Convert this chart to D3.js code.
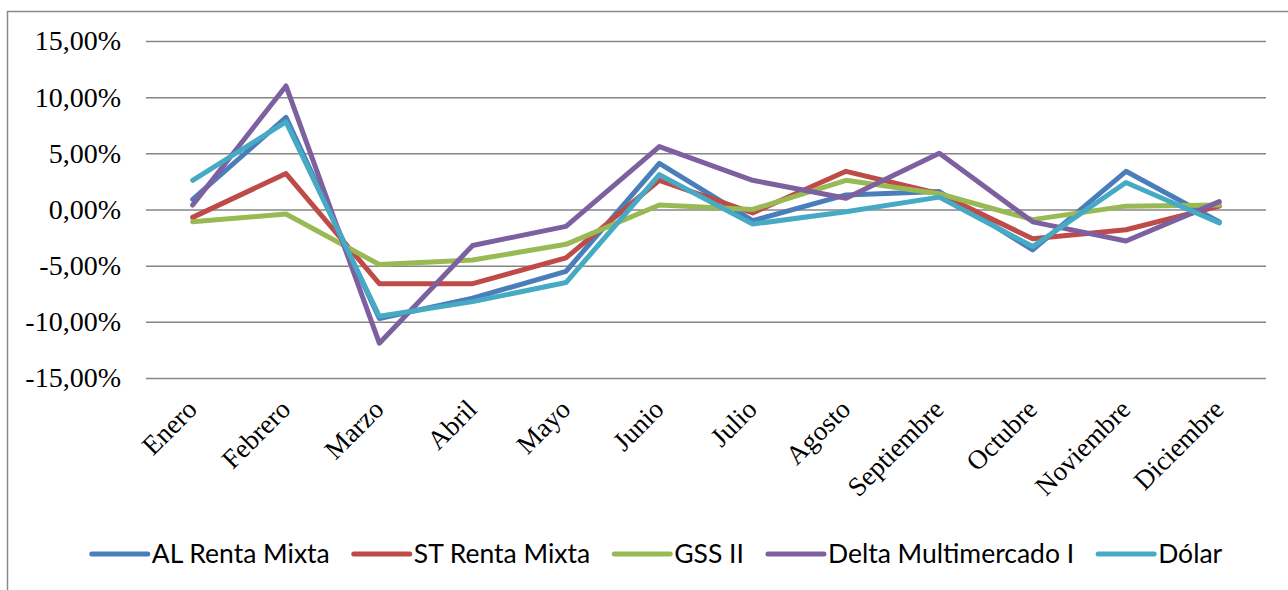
<!DOCTYPE html>
<html>
<head>
<meta charset="utf-8">
<script src="https://cdn.jsdelivr.net/npm/d3@7"></script>
<style>
  body { margin: 0; background: #fff; }
</style>
</head>
<body>
<div id="chart"></div>
<script>
// Months on the x axis
const months = ["Enero", "Febrero", "Marzo", "Abril", "Mayo", "Junio", "Julio",
    "Agosto", "Septiembre", "Octubre", "Noviembre", "Diciembre"];

// Monthly returns (%)
const alRentaMixta = [0.9, 8.2, -9.7, -7.9, -5.5, 4.1, -1.0, 1.3, 1.6, -3.6, 3.4, -1.1];
const stRentaMixta = [-0.7, 3.2, -6.6, -6.6, -4.3, 2.6, -0.3, 3.4, 1.4, -2.6, -1.8, 0.3];
const gssII = [-1.1, -0.4, -4.9, -4.5, -3.1, 0.4, 0.0, 2.6, 1.4, -0.9, 0.3, 0.4];
const deltaMultimercado = [0.4, 11.0, -11.9, -3.2, -1.5, 5.6, 2.6, 1.0, 5.0, -1.1, -2.8, 0.7];
const dolar = [2.6, 7.8, -9.5, -8.2, -6.5, 3.1, -1.3, -0.2, 1.1, -3.3, 2.4, -1.2];

const yTicks = [-15, -10, -5, 0, 5, 10, 15];

const series = [
    { name: "AL Renta Mixta", values: alRentaMixta, color: "#4a7ebb" },
    { name: "ST Renta Mixta", values: stRentaMixta, color: "#be4b48" },
    { name: "GSS II", values: gssII, color: "#98b954" },
    { name: "Delta Multimercado I", values: deltaMultimercado, color: "#7d60a0" },
    { name: "Dólar", values: dolar, color: "#46aac5" }
];

const W = 1288, H = 590;
const plot = { left: 146, right: 1266, top: 41, bottom: 378 };
const serif = "'Liberation Serif', 'DejaVu Serif', serif";

const locale = d3.formatLocale({
    decimal: ",", thousands: ".", grouping: [3],
    currency: ["", ""], minus: "-", percent: "%"
});
const fmt = v => locale.format(".2f")(v) + "%";

const svg = d3.select("#chart")
    .append("svg")
    .attr("width", W)
    .attr("height", H);

// outer chart frame (runs off the picture on the right and bottom)
svg.append("rect")
    .attr("x", 7.5)
    .attr("y", 11.5)
    .attr("width", 1300)
    .attr("height", 600)
    .attr("fill", "none")
    .attr("stroke", "#8a8a8a")
    .attr("stroke-width", 1.5);

const x = d3.scaleBand()
    .domain(months)
    .range([plot.left, plot.right]);

const y = d3.scaleLinear()
    .domain([-15, 15])
    .range([plot.bottom, plot.top]);

const cx = d => x(d) + x.bandwidth() / 2;

// y axis with gridlines
const yAxis = svg.append("g")
    .attr("class", "y-axis")
    .attr("font-family", serif)
    .attr("font-size", 28)
    .attr("transform", `translate(${plot.left},0)`)
    .call(d3.axisLeft(y)
        .tickValues(yTicks)
        .tickSize(-(plot.right - plot.left))
        .tickPadding(25)
        .tickFormat(fmt));

yAxis.attr("font-family", serif).attr("font-size", 28);
yAxis.select(".domain").remove();
yAxis.selectAll("line")
    .style("stroke", "#868686")
    .style("stroke-width", 1.5);
yAxis.selectAll("text")
    .style("font-family", serif)
    .style("font-size", "28px")
    .style("fill", "#000");

// x axis, rotated month labels
const xAxis = svg.append("g")
    .attr("class", "x-axis")
    .attr("transform", `translate(0,${plot.bottom})`)
    .call(d3.axisBottom(x).tickSize(0));

xAxis.attr("font-family", serif).attr("font-size", 27);
xAxis.select(".domain").remove();
xAxis.selectAll("text")
    .attr("x", 6)
    .attr("y", 33)
    .attr("dy", 0)
    .attr("text-anchor", "end")
    .attr("transform", "rotate(-45, 6, 33)")
    .style("font-family", serif)
    .style("font-size", "27px")
    .style("fill", "#000");

// lines
const line = d3.line()
    .x((d, i) => cx(months[i]))
    .y(d => y(d));

svg.selectAll(".series")
    .data(series)
    .enter()
    .append("path")
    .attr("class", "series")
    .attr("d", d => line(d.values))
    .attr("fill", "none")
    .attr("stroke", d => d.color)
    .attr("stroke-width", 5)
    .attr("stroke-linejoin", "round")
    .attr("stroke-linecap", "round");

// legend
const legendY = 554;
const swatch = 56, swatchGap = 4, itemGap = 24;
const legend = svg.append("g").attr("class", "legend");

const items = legend.selectAll(".item")
    .data(series)
    .enter()
    .append("g")
    .attr("class", "item");

items.append("line")
    .attr("x1", 0)
    .attr("x2", swatch)
    .attr("y1", 0)
    .attr("y2", 0)
    .attr("stroke", d => d.color)
    .attr("stroke-width", 5)
    .attr("stroke-linecap", "round");

const labels = items.append("text")
    .attr("x", swatch + swatchGap)
    .attr("dy", "0.35em")
    .style("font-family", "Lato, sans-serif")
    .style("font-size", "20px")
    .style("fill", "#000")
    .text(d => d.name);

// fit the legend font so the first label is as wide as in the picture
const w0 = labels.nodes()[0].getComputedTextLength();
const legendSize = 20 * 178 / w0;
labels.style("font-size", legendSize + "px");

const widths = labels.nodes().map(n => swatch + swatchGap + n.getComputedTextLength());
const total = d3.sum(widths) + itemGap * (widths.length - 1);
let pos = 657 - total / 2;
items.each(function (d, i) {
    d3.select(this).attr("transform", `translate(${pos},${legendY})`);
    pos += widths[i] + itemGap;
});
</script>
</body>
</html>
